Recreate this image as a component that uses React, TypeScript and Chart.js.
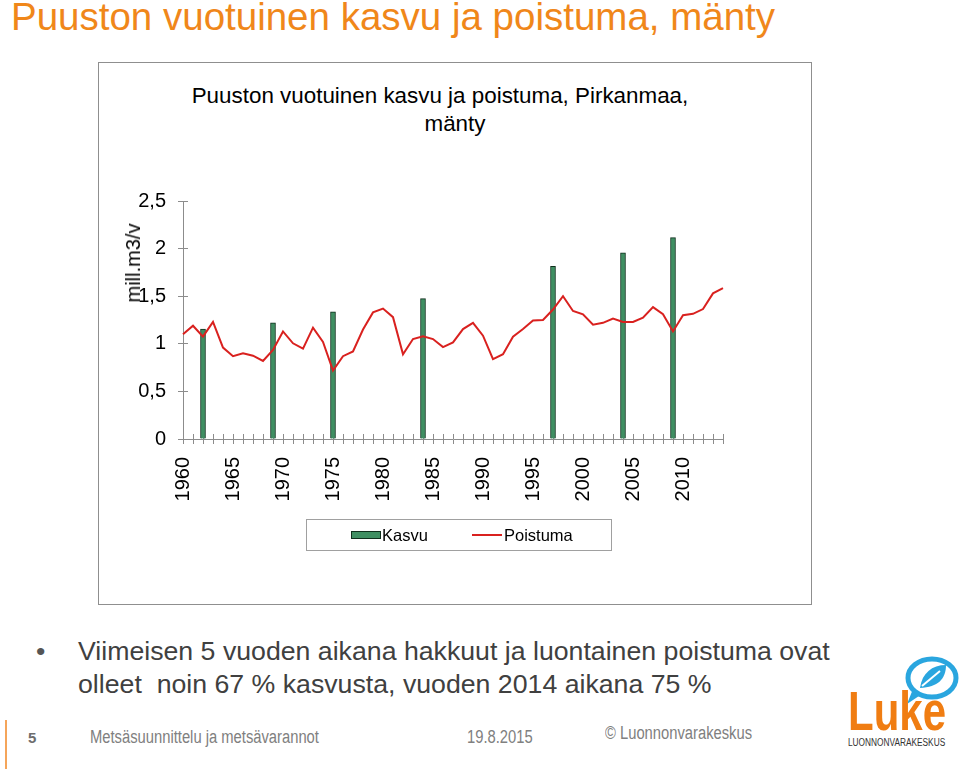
import React, { useEffect, useRef } from "react";
import { Chart, registerables } from "chart.js";

Chart.register(...registerables);

// ---- Data ----
const years = [
  "1960", "1961", "1962", "1963", "1964", "1965", "1966", "1967", "1968", "1969",
  "1970", "1971", "1972", "1973", "1974", "1975", "1976", "1977", "1978", "1979",
  "1980", "1981", "1982", "1983", "1984", "1985", "1986", "1987", "1988", "1989",
  "1990", "1991", "1992", "1993", "1994", "1995", "1996", "1997", "1998", "1999",
  "2000", "2001", "2002", "2003", "2004", "2005", "2006", "2007", "2008", "2009",
  "2010", "2011", "2012", "2013", "2014",
];

// Poistuma (removal), mill. m3/v, one value per year
const poistuma = [
  1.10, 1.19, 1.075, 1.23, 0.96, 0.87, 0.90, 0.875, 0.82, 0.935,
  1.13, 1.005, 0.95, 1.17, 1.02, 0.72, 0.87, 0.92, 1.15, 1.33,
  1.37, 1.28, 0.89, 1.05, 1.08, 1.05, 0.965, 1.015, 1.155, 1.22,
  1.085, 0.84, 0.89, 1.075, 1.155, 1.245, 1.25, 1.36, 1.50, 1.345,
  1.31, 1.20, 1.22, 1.265, 1.23, 1.23, 1.275, 1.385, 1.31, 1.13,
  1.30, 1.315, 1.365, 1.53, 1.585,
];

// Kasvu (growth), measured only in inventory years
const kasvuYears = ["1962", "1969", "1975", "1984", "1997", "2004", "2009"];
const kasvuValues = [1.155, 1.22, 1.335, 1.475, 1.815, 1.955, 2.115];

const yTicks = [0, 0.5, 1, 1.5, 2, 2.5];
const labelEvery = 5;

const chartTitle1 = "Puuston vuotuinen kasvu ja poistuma, Pirkanmaa,";
const chartTitle2 = "mänty";
const yAxisTitle = "mill.m3/v";

const FONT = 'Arial, "Liberation Sans", sans-serif';
const AXIS_COLOR = "#8c8c8c";

const crossTicks = {
  id: "crossTicks",
  beforeDatasetsDraw(chart: any) {
    const ctx = chart.ctx;
    const x = chart.scales.x;
    const y = chart.scales.y;
    ctx.save();
    ctx.strokeStyle = AXIS_COLOR;
    ctx.lineWidth = 1;
    ctx.beginPath();
    x.ticks.forEach((_: any, i: number) => {
      const px = Math.round(x.getPixelForTick(i) - 0.5) + 0.5;
      ctx.moveTo(px, x.top);
      ctx.lineTo(px, x.top - 5);
    });
    y.ticks.forEach((_: any, i: number) => {
      const py = Math.round(y.getPixelForTick(i) - 0.5) + 0.5;
      ctx.moveTo(y.right, py);
      ctx.lineTo(y.right + 5, py);
    });
    ctx.stroke();
    ctx.restore();
  },
};

function ChartCanvas() {
  const ref = useRef<HTMLCanvasElement | null>(null);
  useEffect(() => {
    if (!ref.current) return;
    const kasvuData = years.map((yr) => {
      const k = kasvuYears.indexOf(yr);
      return k >= 0 ? kasvuValues[k] : null;
    });
    const chart = new Chart(ref.current, {
      type: "bar",
      data: {
        labels: years,
        datasets: [
          {
            type: "line",
            label: "Poistuma",
            data: poistuma,
            borderColor: "#d9211f",
            backgroundColor: "#d9211f",
            borderWidth: 2,
            pointRadius: 0,
            tension: 0,
            order: 0,
          } as any,
          {
            type: "bar",
            label: "Kasvu",
            data: kasvuData,
            backgroundColor: "#3f8f62",
            borderColor: "#0f2f1d",
            borderWidth: 1,
            barThickness: 5,
            order: 1,
          } as any,
        ],
      },
      options: {
        responsive: false,
        animation: false,
        layout: { padding: { left: 0, right: 89, top: 139, bottom: 0 } },
        plugins: {
          legend: { display: false },
          tooltip: { enabled: false },
          title: { display: false },
        },
        scales: {
          x: {
            offset: false,
            grid: {
              offset: false,
              drawOnChartArea: false,
              drawTicks: true,
              tickLength: 5,
              color: AXIS_COLOR,
            },
            border: { color: AXIS_COLOR, width: 1 },
            ticks: {
              autoSkip: false,
              maxRotation: 90,
              minRotation: 90,
              padding: 13,
              color: "#000",
              font: { family: FONT, size: 20 },
              callback: (_v: any, i: number) =>
                Number(years[i]) % labelEvery === 0 ? years[i] : "",
            },
            afterFit: (s: any) => {
              s.height = 166;
              s.paddingLeft = 0;
              s.paddingRight = 0;
            },
          },
          y: {
            min: yTicks[0],
            max: yTicks[yTicks.length - 1],
            afterBuildTicks: (s: any) => {
              s.ticks = yTicks.map((v) => ({ value: v }));
            },
            grid: {
              drawOnChartArea: false,
              drawTicks: true,
              tickLength: 5,
              color: AXIS_COLOR,
            },
            border: { color: AXIS_COLOR, width: 1 },
            ticks: {
              padding: 12,
              color: "#000",
              font: { family: FONT, size: 20 },
              callback: (v: any) => String(v).replace(".", ","),
            },
            afterFit: (s: any) => {
              s.width = 85;
              s.paddingTop = 0;
              s.paddingBottom = 0;
            },
          },
        },
      } as any,
      plugins: [crossTicks],
    });
    return () => chart.destroy();
  }, []);
  return (
    <canvas
      ref={ref}
      width={714}
      height={543}
      style={{ position: "absolute", left: 98, top: 62, width: 714, height: 543 }}
    />
  );
}

function LukeLogo() {
  return (
    <div style={{ position: "absolute", left: 840, top: 650, width: 120, height: 119 }}>
      <svg width={120} height={60} style={{ position: "absolute", left: 0, top: 0 }}>
        <ellipse cx={92} cy={28} rx={24} ry={19} fill="none" stroke="#2aa6df" strokeWidth={5} />
        <path d="M73 39 L67 54 L82 44 Z" fill="#2aa6df" />
        <path d="M80 38 C82 23 92 15 106 15 C106 29 98 37 80 38 Z" fill="#2aa6df" />
        <path d="M82 36 L100 21" stroke="#fff" strokeWidth={2} />
      </svg>
      <div
        style={{
          position: "absolute",
          left: 8,
          top: 33,
          fontFamily: FONT,
          fontWeight: "bold",
          fontSize: 56,
          lineHeight: "56px",
          color: "#f07d12",
          transform: "scaleX(0.75)",
          transformOrigin: "left top",
          whiteSpace: "nowrap",
        }}
      >
        Luke
      </div>
      <div
        style={{
          position: "absolute",
          left: 8,
          top: 88,
          fontFamily: FONT,
          fontSize: 10,
          lineHeight: "10px",
          color: "#333",
          transform: "scaleX(0.83)",
          transformOrigin: "left top",
          whiteSpace: "nowrap",
        }}
      >
        LUONNONVARAKESKUS
      </div>
    </div>
  );
}

export default function App() {
  const abs = (extra: React.CSSProperties): React.CSSProperties => ({
    position: "absolute",
    whiteSpace: "pre",
    fontFamily: FONT,
    ...extra,
  });
  const footer = (left: number, top: number, text: string, extra: React.CSSProperties = {}) => (
    <div
      style={abs({
        left,
        top,
        fontSize: 18,
        lineHeight: "18px",
        color: "#808080",
        transform: "scaleX(0.82)",
        transformOrigin: "left top",
        ...extra,
      })}
    >
      {text}
    </div>
  );
  return (
    <div
      style={{
        position: "fixed",
        left: 0,
        top: 0,
        width: 960,
        height: 769,
        background: "#fff",
        overflow: "hidden",
      }}
    >
      <div style={abs({ left: 11, top: -2, fontSize: 38.5, lineHeight: "38.5px", color: "#f0871a" })}>
        Puuston vuotuinen kasvu ja poistuma, mänty
      </div>

      {/* chart frame */}
      <div
        style={{
          position: "absolute",
          left: 98,
          top: 62,
          width: 714,
          height: 543,
          boxSizing: "border-box",
          border: "1px solid #8f8f8f",
        }}
      />
      <div style={abs({ left: 0, width: 880, textAlign: "center", top: 84.5, fontSize: 22.4, lineHeight: "22px", color: "#000" })}>
        {chartTitle1}
      </div>
      <div style={abs({ left: 0, width: 910, textAlign: "center", top: 112.5, fontSize: 22.4, lineHeight: "22px", color: "#000" })}>
        {chartTitle2}
      </div>

      <ChartCanvas />

      <div
        style={abs({
          left: 133,
          top: 263,
          fontSize: 20,
          lineHeight: "20px",
          color: "#000",
          transform: "translate(-50%, -50%) rotate(-90deg)",
        })}
      >
        {yAxisTitle}
      </div>

      {/* legend */}
      <div
        style={{
          position: "absolute",
          left: 306,
          top: 519,
          width: 306,
          height: 32,
          boxSizing: "border-box",
          border: "1px solid #a0a0a0",
        }}
      />
      <div
        style={{
          position: "absolute",
          left: 351,
          top: 531,
          width: 30,
          height: 8,
          boxSizing: "border-box",
          background: "#3f8f62",
          border: "1px solid #0f2f1d",
        }}
      />
      <div style={abs({ left: 382, top: 527, fontSize: 16.5, lineHeight: "16.5px", color: "#000" })}>Kasvu</div>
      <div style={{ position: "absolute", left: 472, top: 534, width: 30, height: 2, background: "#d9211f" }} />
      <div style={abs({ left: 504, top: 527, fontSize: 16.5, lineHeight: "16.5px", color: "#000" })}>Poistuma</div>

      {/* bullet text */}
      <div style={abs({ left: 36, top: 637.5, fontSize: 26.7, lineHeight: "26.7px", color: "#555" })}>•</div>
      <div style={abs({ left: 78, top: 637.5, fontSize: 26.7, lineHeight: "26.7px", color: "#404040" })}>
        Viimeisen 5 vuoden aikana hakkuut ja luontainen poistuma ovat
      </div>
      <div style={abs({ left: 78, top: 670.5, fontSize: 26.7, lineHeight: "26.7px", color: "#404040" })}>
        {"olleet  noin 67 % kasvusta, vuoden 2014 aikana 75 %"}
      </div>

      {/* footer */}
      <div style={{ position: "absolute", left: 5, top: 720, width: 2, height: 49, background: "#f5a55a" }} />
      {footer(28, 728, "5", { fontWeight: "bold", color: "#6d6d6d", transform: "none", fontSize: 15, lineHeight: "15px", top: 730 })}
      {footer(90, 728, "Metsäsuunnittelu ja metsävarannot")}
      {footer(467, 728, "19.8.2015")}
      {footer(605, 724, "© Luonnonvarakeskus")}

      <LukeLogo />
    </div>
  );
}
